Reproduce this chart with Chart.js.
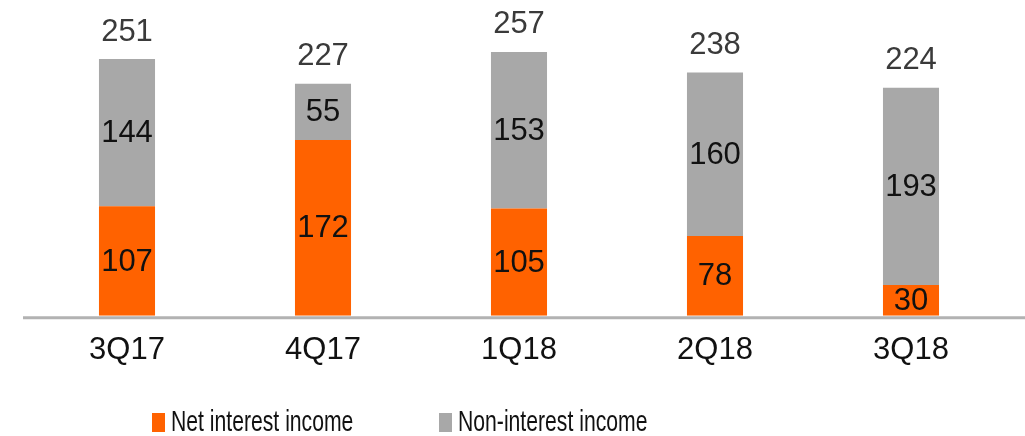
<!DOCTYPE html>
<html>
<head>
<meta charset="utf-8">
<script src="https://cdn.jsdelivr.net/npm/chart.js@4"></script>
<style>
  body { margin: 0; background: #fff; }
</style>
</head>
<body>
<canvas id="myChart" width="1025" height="436"></canvas>
<script>
const quarters = ['3Q17', '4Q17', '1Q18', '2Q18', '3Q18']
const netInterest = [107, 172, 105, 78, 30]
const nonInterest = [144, 55, 153, 160, 193]
const totals = [251, 227, 257, 238, 224]

const orange = '#FF6200'
const grey = '#A8A8A8'
const numFont = "31px 'Liberation Sans', Arial, sans-serif"
const legendFont = "29px 'Liberation Sans', Arial, sans-serif"
const legendSquash = 0.73   // the original font is a narrow one

// baseline that runs past the plot area like in the original
const baseLine = {
    id: 'baseLine',
    beforeDatasetsDraw(chart) {
        const c = chart.ctx
        const y = chart.scales.y.getPixelForValue(0) + 2
        c.save()
        c.strokeStyle = '#B2B2B2'
        c.lineWidth = 3
        c.beginPath()
        c.moveTo(23, y)
        c.lineTo(chart.width, y)
        c.stroke()
        c.restore()
    }
}

// values inside segments + totals on top
const barLabels = {
    id: 'barLabels',
    afterDatasetsDraw(chart) {
        const c = chart.ctx
        c.save()
        c.font = numFont
        c.textAlign = 'center'
        c.textBaseline = 'middle'
        chart.data.datasets.forEach((ds, di) => {
            chart.getDatasetMeta(di).data.forEach((bar, i) => {
                const { x, y, base } = bar.getProps(['x', 'y', 'base'], true)
                c.fillStyle = '#111'
                c.fillText(ds.data[i], x, (y + base) / 2 + 1)
            })
        })
        const top = chart.getDatasetMeta(chart.data.datasets.length - 1).data
        top.forEach((bar, i) => {
            c.fillStyle = '#3a3a3a'
            c.fillText(totals[i], bar.x, bar.y - 27)
        })
        c.restore()
    }
}

const customLegend = {
    id: 'customLegend',
    afterDraw(chart) {
        const c = chart.ctx
        const starts = [152, 439]
        c.save()
        c.font = legendFont
        c.textBaseline = 'middle'
        c.textAlign = 'left'
        chart.data.datasets.forEach((ds, i) => {
            c.fillStyle = ds.backgroundColor
            c.fillRect(starts[i], 413, 13, 19)
            c.save()
            c.translate(starts[i] + 19, 423)
            c.scale(legendSquash, 1)
            c.fillStyle = '#111'
            c.fillText(ds.label, 0, 0)
            c.restore()
        })
        c.restore()
    }
}

const ctx = document.getElementById('myChart')

new Chart(ctx, {
    type: 'bar',
    data: {
        labels: quarters,
        datasets: [{
            label: 'Net interest income',
            data: netInterest,
            backgroundColor: orange
        }, {
            label: 'Non-interest income',
            data: nonInterest,
            backgroundColor: grey
        }]
    },
    options: {
        responsive: false,
        animation: false,
        layout: {
            padding: { left: 29, right: 16, top: 9, bottom: 51 }
        },
        datasets: {
            bar: { barPercentage: 1, categoryPercentage: 0.286 }
        },
        scales: {
            x: {
                stacked: true,
                grid: { display: false, drawTicks: false },
                border: { display: false },
                ticks: {
                    padding: 16,
                    color: '#111',
                    font: { family: "'Liberation Sans', Arial, sans-serif", size: 31 }
                }
            },
            y: {
                stacked: true,
                display: false,
                min: 0,
                max: 300
            }
        },
        plugins: {
            legend: { display: false },
            tooltip: { enabled: false }
        }
    },
    plugins: [baseLine, barLabels, customLegend]
})
</script>
</body>
</html>
